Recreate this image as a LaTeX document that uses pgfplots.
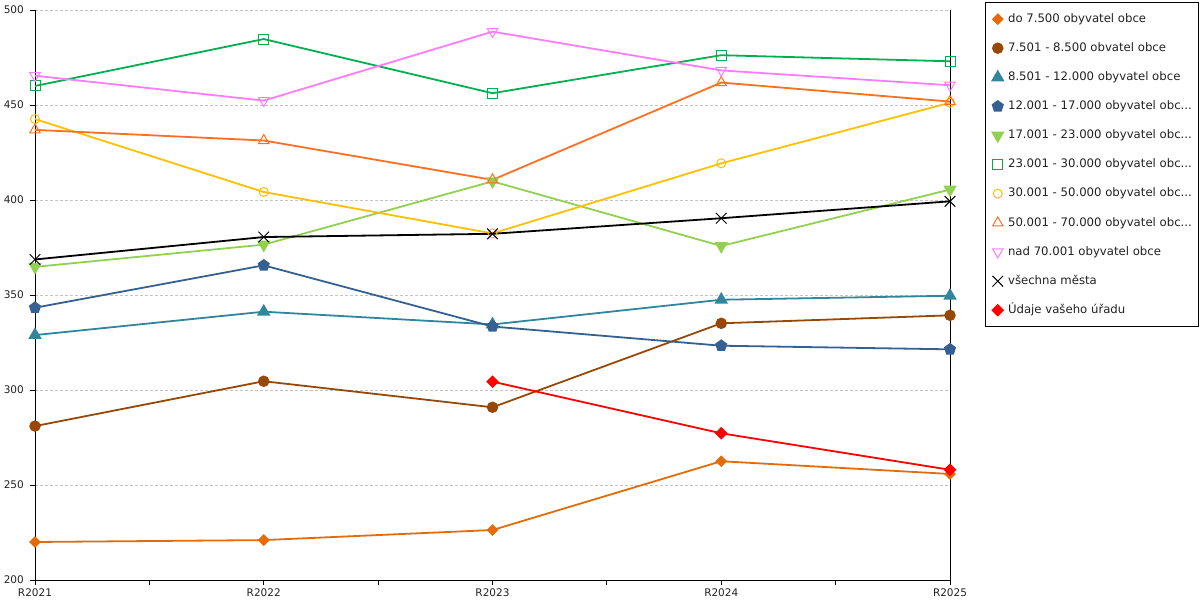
\documentclass[border=0pt]{standalone}
\usepackage{fontspec}
\setmainfont{DejaVu Sans}
\usepackage{pgfplots}
\pgfplotsset{compat=1.18}
\usetikzlibrary{plotmarks}
\definecolor{c1}{HTML}{E36C09}
\definecolor{c2}{HTML}{974806}
\definecolor{c3}{HTML}{31859C}
\definecolor{c4}{HTML}{366092}
\definecolor{c5}{HTML}{92D050}
\definecolor{c6}{HTML}{00B050}
\definecolor{c7}{HTML}{FFC000}
\definecolor{c8}{HTML}{FF6F20}
\definecolor{c9}{HTML}{FF7CFF}
\definecolor{c11}{HTML}{FF0000}
\definecolor{gridc}{HTML}{C4C4C4}
\definecolor{txt}{HTML}{222222}
\begin{document}
\begin{tikzpicture}[x=1bp,y=1bp]
\path[use as bounding box] (0,0) rectangle (1200,600);
\begin{axis}[
  at={(35bp,20bp)}, anchor=south west,
  scale only axis, width=915bp, height=570bp,
  xmin=0, xmax=4, ymin=200, ymax=500,
  axis x line*=bottom, axis y line*=left,
  axis line style={black, line width=0.9bp},
  xtick={0,1,2,3,4},
  xticklabels={R2021,R2022,R2023,R2024,R2025},
  minor xtick={0.5,1.5,2.5,3.5},
  ytick={200,250,...,500},
  extra x ticks={4}, extra x tick labels={},
  extra x tick style={grid=major, major grid style={solid, black, line width=0.9bp}},
  ymajorgrids,
  major grid style={gridc, dash pattern=on 2.5bp off 2.5bp, line width=0.9bp},
  tick align=outside, major tick length=5bp, minor tick length=5bp,
  tick style={black, line width=0.9bp},
  /pgf/number format/assume math mode=true,
  ticklabel style={font=\fontsize{10.5bp}{12bp}\selectfont, text=txt, inner sep=0pt},
  yticklabel style={xshift=-6bp},
  xticklabel style={yshift=-4bp},
  clip=false,
  every axis plot/.append style={line width=1.8bp},
  legend image code/.code={\draw[#1] plot coordinates {(0bp,0bp)};},
  legend cell align=left,
  legend style={at={(axis description cs:1.03825,1.01404)}, anchor=north west,
    draw=black, line width=0.9bp, inner xsep=7bp, inner ysep=11bp,
    row sep=17.5bp, column sep=5bp,
    font=\fontsize{11.7bp}{13bp}\selectfont, text=txt,
    nodes={inner sep=0pt, text height=9bp, text depth=2.5bp}},
]
\addplot[c1, mark=square*, mark size=3.3bp, mark options={rotate=45, solid, fill=c1, draw=c1}]
  coordinates {(0,220) (1,221) (2,226.3) (3,262.5) (4,255.8)};
\addlegendentry{do 7.500 obyvatel obce}
\addplot[c2, mark=*, mark size=4.8bp, mark options={solid, fill=c2, draw=c2}]
  coordinates {(0,281) (1,304.6) (2,290.9) (3,335.1) (4,339.3)};
\addlegendentry{7.501 - 8.500 obvatel obce}
\addplot[c3, mark=triangle*, mark size=6bp, mark options={solid, fill=c3, draw=c3}]
  coordinates {(0,328.9) (1,341.2) (2,334.5) (3,347.5) (4,349.6)};
\addlegendentry{8.501 - 12.000 obyvatel obce}
\addplot[c4, mark=pentagon*, mark size=5.3bp, mark options={solid, fill=c4, draw=c4}]
  coordinates {(0,343.3) (1,365.6) (2,333.4) (3,323.3) (4,321.4)};
\addlegendentry{12.001 - 17.000 obyvatel obc...}
\addplot[c5, mark=triangle*, mark size=6bp, mark options={solid, rotate=180, fill=c5, draw=c5}]
  coordinates {(0,364.8) (1,376.5) (2,409.8) (3,375.8) (4,405.5)};
\addlegendentry{17.001 - 23.000 obyvatel obc...}
\addplot[c6, mark=square, mark size=5bp, mark options={solid, line width=1bp, fill=white}]
  coordinates {(0,460) (1,484.7) (2,456.2) (3,476.2) (4,473)};
\addlegendentry{23.001 - 30.000 obyvatel obc...}
\addplot[c7, mark=o, mark size=4.5bp, mark options={solid, line width=1bp}]
  coordinates {(0,442.6) (1,404.2) (2,382.4) (3,419.3) (4,451.2)};
\addlegendentry{30.001 - 50.000 obyvatel obc...}
\addplot[c8, mark=triangle, mark size=6bp, mark options={solid, line width=1bp}]
  coordinates {(0,436.9) (1,431.3) (2,410.6) (3,461.8) (4,451.8)};
\addlegendentry{50.001 - 70.000 obyvatel obc...}
\addplot[c9, mark=triangle, mark size=6bp, mark options={solid, rotate=180, line width=1bp}]
  coordinates {(0,465.4) (1,452.3) (2,488.6) (3,468.2) (4,460.4)};
\addlegendentry{nad 70.001 obyvatel obce}
\addplot[black, mark=x, mark size=7.5bp, mark options={solid, line width=1bp}]
  coordinates {(0,368.7) (1,380.5) (2,382.2) (3,390.4) (4,399.3)};
\addlegendentry{všechna města}
\addplot[c11, mark=square*, mark size=3.6bp, mark options={rotate=45, solid, fill=c11, draw=c11}]
  coordinates {(2,304.4) (3,277.2) (4,258)};
\addlegendentry{Údaje vašeho úřadu}
\end{axis}
\end{tikzpicture}
\end{document}
